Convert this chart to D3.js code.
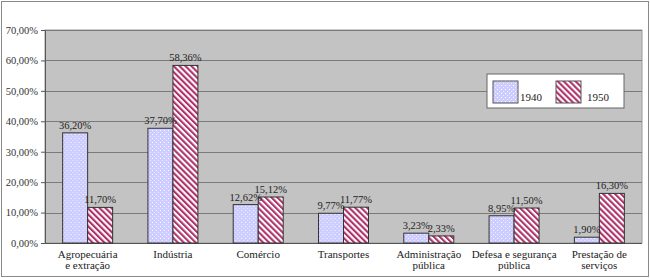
<!DOCTYPE html>
<html>
<head>
    <meta charset="UTF-8">
    <title>PEA por setor 1940 - 1950</title>
    <script src="https://d3js.org/d3.v7.min.js"></script>
</head>
<body style="margin:0">
    <div id="chart"></div>

    <script>
        // data
        var categories = ["Agropecuária|e extração", "Indústria", "Comércio", "Transportes",
                          "Administração|pública", "Defesa e segurança|pública", "Prestação de|serviços"];
        var series = ["1940", "1950"];
        var values1940 = [36.20, 37.70, 12.62, 9.77, 3.23, 8.95, 1.90];
        var values1950 = [11.70, 58.36, 15.12, 11.77, 2.33, 11.50, 16.30];
        var yTicks = [0, 10, 20, 30, 40, 50, 60, 70];

        var W = 650, H = 278;
        var margin = {top: 30, right: 8, bottom: 35, left: 45};
        var width = W - margin.left - margin.right;
        var height = H - margin.top - margin.bottom;
        var fontFam = "Liberation Serif";

        var fmt = function(v) { return v.toFixed(2).replace(".", ",") + "%"; };

        var root = d3.select("#chart").append("svg")
            .attr("width", W)
            .attr("height", H);

        // hatch patterns
        var defs = root.append("defs");
        var p1 = defs.append("pattern").attr("id", "p1940")
            .attr("patternUnits", "userSpaceOnUse").attr("width", 4).attr("height", 4);
        p1.append("rect").attr("width", 4).attr("height", 4).attr("fill", "#ccccff");
        p1.append("rect").attr("x", 0).attr("y", 0).attr("width", 1).attr("height", 1).attr("fill", "#ffffff");
        p1.append("rect").attr("x", 2).attr("y", 2).attr("width", 1).attr("height", 1).attr("fill", "#eeeeff");

        var p2 = defs.append("pattern").attr("id", "p1950")
            .attr("patternUnits", "userSpaceOnUse").attr("width", 4.2).attr("height", 4.2)
            .attr("patternTransform", "rotate(-45)");
        p2.append("rect").attr("width", 4.2).attr("height", 4.2).attr("fill", "#ffffff");
        p2.append("rect").attr("width", 2.1).attr("height", 4.2).attr("fill", "#b0306a");

        // outer frame
        root.append("rect")
            .attr("x", 1.5).attr("y", 1.5)
            .attr("width", W - 3).attr("height", H - 3)
            .attr("fill", "none").attr("stroke", "#8a8a8a");

        var svg = root.append("g")
            .attr("transform", "translate(" + margin.left + "," + margin.top + ")");

        var x = d3.scaleBand()
            .domain(categories)
            .range([0, width])
            .paddingInner(0.414)
            .paddingOuter(0.207);

        var xSub = d3.scaleBand()
            .domain(series)
            .range([0, x.bandwidth()]);

        var y = d3.scaleLinear()
            .domain([0, 70])
            .range([height, 0]);

        var color = d3.scaleOrdinal()
            .domain(series)
            .range(["url(#p1940)", "url(#p1950)"]);

        // plot area
        svg.append("rect")
            .attr("width", width).attr("height", height)
            .attr("fill", "#c3c3c3")
            .attr("stroke", "#9a9a9a");

        // grid lines
        svg.append("g").selectAll("line")
            .data(yTicks)
            .enter().append("line")
            .attr("x1", 0).attr("x2", width)
            .attr("y1", function(d) { return Math.round(y(d)) + 0.5; })
            .attr("y2", function(d) { return Math.round(y(d)) + 0.5; })
            .attr("stroke", "#7a7a7a");

        // y axis
        var yAxis = svg.append("g")
            .call(d3.axisLeft(y).tickValues(yTicks).tickFormat(function(d) { return fmt(d); }).tickSize(4).tickPadding(3));
        yAxis.attr("font-family", null).attr("font-size", null);
        yAxis.select(".domain").attr("stroke", "#555");
        yAxis.selectAll(".tick line").attr("stroke", "#555");
        yAxis.selectAll("text")
            .style("font-family", fontFam)
            .style("font-size", "10.5px")
            .attr("fill", "#333");

        // x axis line
        svg.append("line")
            .attr("x1", 0).attr("x2", width)
            .attr("y1", height + 0.5).attr("y2", height + 0.5)
            .attr("stroke", "#555");

        // bars
        var rows = categories.map(function(c, i) {
            return {cat: c, vals: [{key: "1940", value: values1940[i]}, {key: "1950", value: values1950[i]}]};
        });

        var groups = svg.append("g").selectAll("g")
            .data(rows)
            .enter().append("g")
            .attr("transform", function(d) { return "translate(" + x(d.cat) + ",0)"; });

        groups.selectAll("rect")
            .data(function(d) { return d.vals; })
            .enter().append("rect")
            .attr("x", function(d) { return xSub(d.key); })
            .attr("y", function(d) { return y(d.value); })
            .attr("width", xSub.bandwidth())
            .attr("height", function(d) { return height - y(d.value); })
            .attr("fill", function(d) { return color(d.key); })
            .attr("stroke", "#333")
            .attr("stroke-width", 1);

        groups.selectAll("text.val")
            .data(function(d) { return d.vals; })
            .enter().append("text")
            .attr("class", "val")
            .attr("x", function(d) { return xSub(d.key) + xSub.bandwidth() / 2; })
            .attr("y", function(d) { return y(d.value) - 4; })
            .attr("text-anchor", "middle")
            .attr("fill", "#222")
            .style("font-family", fontFam)
            .style("font-size", "10.5px")
            .text(function(d) { return fmt(d.value); });

        // category labels
        svg.append("g").selectAll("text")
            .data(categories)
            .enter().append("text")
            .attr("x", function(d) { return x(d) + x.bandwidth() / 2; })
            .attr("y", height + 15)
            .attr("text-anchor", "middle")
            .attr("fill", "#222")
            .style("font-family", fontFam)
            .style("font-size", "11px")
            .each(function(d) {
                var parts = d.split("|");
                var t = d3.select(this);
                parts.forEach(function(p, i) {
                    t.append("tspan")
                        .attr("x", x(d) + x.bandwidth() / 2)
                        .attr("dy", i === 0 ? 0 : 11)
                        .text(p);
                });
            });

        // legend
        var leg = root.append("g").attr("transform", "translate(487,74)");
        leg.append("rect")
            .attr("width", 137).attr("height", 34)
            .attr("fill", "#fff").attr("stroke", "#666");
        var legItems = leg.selectAll("g")
            .data(series)
            .enter().append("g")
            .attr("transform", function(d, i) { return "translate(" + (6 + i * 63) + ",7)"; });
        legItems.append("rect")
            .attr("width", 25).attr("height", 22)
            .attr("fill", function(d) { return color(d); })
            .attr("stroke", "#555");
        legItems.append("text")
            .attr("x", function(d, i) { return i === 0 ? 27 : 31; })
            .attr("y", 20)
            .attr("fill", "#222")
            .style("font-family", fontFam)
            .style("font-size", "11px")
            .text(function(d) { return d; });
    </script>
</body>
</html>
